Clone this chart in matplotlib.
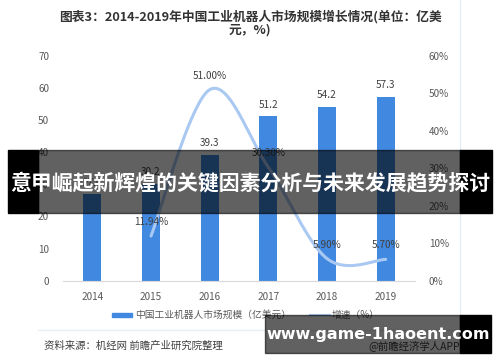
import numpy as np
import matplotlib
matplotlib.use("Agg")
import matplotlib.pyplot as plt
from matplotlib.patches import Rectangle
from matplotlib.lines import Line2D

plt.rcParams['font.family'] = ['Noto Sans CJK SC', 'DejaVu Sans']

years = ['2014', '2015', '2016', '2017', '2018', '2019']
market = [27.0, 30.2, 39.3, 51.2, 54.2, 57.3]          # 亿美元
growth = [None, 11.94, 51.00, 30.30, 5.90, 5.70]        # %
growth_labels = ['', '11.94%', '51.00%', '30.30%', '5.90%', '5.70%']
left_ticks = [0, 10, 20, 30, 40, 50, 60, 70]
right_ticks = [0, 10, 20, 30, 40, 50, 60]

title = '图表3：2014-2019年中国工业机器人市场规模增长情况(单位：亿美\n元，%)'
banner = '意甲崛起新辉煌的关键因素分析与未来发展趋势探讨'
site = 'www.game-1haoent.com'
source = '资料来源：机经网 前瞻产业研究院整理'
app = '@前瞻经济学人APP'

W, H = 500, 362
fig = plt.figure(figsize=(W / 100, H / 100), dpi=100)
fig.patch.set_facecolor('white')

def fx(px):
    return px / W

def fy(py):
    return 1 - py / H

# plot area
ax = fig.add_axes([fx(63), fy(280.7), fx(415 - 63), (280.7 - 56) / H])
x = np.arange(len(years))
bars = ax.bar(x, market, width=0.31, color='#4189e0', zorder=2)
ax.set_xlim(-0.5, len(years) - 0.5)
ax.set_ylim(0, 70)
ax.set_yticks(left_ticks)
ax.set_xticks(x)
ax.set_xticklabels(years)
for s in ['top', 'left', 'right']:
    ax.spines[s].set_visible(False)
ax.spines['bottom'].set_color('#d9d9d9')
ax.tick_params(axis='both', length=0, labelsize=7.2, labelcolor='#595959')
ax.tick_params(axis='y', pad=10)
ax.tick_params(axis='x', pad=8)
for xi, v in zip(x, market):
    ax.text(xi, v + 2.0, f'{v:.1f}', ha='center', va='bottom', fontsize=7.2, color='#404040')

# growth line (smoothed, Catmull-Rom like Excel)
ax2 = ax.twinx()
ax2.set_ylim(0, 60)
ax2.set_yticks(right_ticks)
ax2.set_yticklabels([f'{t}%' for t in right_ticks])
for s in ['top', 'left', 'right', 'bottom']:
    ax2.spines[s].set_visible(False)
ax2.tick_params(axis='y', length=0, labelsize=7.2, labelcolor='#595959', pad=10)

px = np.array([xi for xi, g in zip(x, growth) if g is not None], dtype=float)
py = np.array([g for g in growth if g is not None], dtype=float)
P = np.vstack([px, py]).T
P = np.vstack([P[0], P, P[-1]])
sx, sy = [], []
for i in range(1, len(P) - 2):
    p0, p1, p2, p3 = P[i - 1], P[i], P[i + 1], P[i + 2]
    t = np.linspace(0, 1, 40)[:, None]
    seg = 0.5 * ((2 * p1) + (-p0 + p2) * t + (2 * p0 - 5 * p1 + 4 * p2 - p3) * t ** 2
                 + (-p0 + 3 * p1 - 3 * p2 + p3) * t ** 3)
    sx.extend(seg[:, 0]); sy.extend(seg[:, 1])
ax2.plot(sx, sy, color='#a9c9f2', lw=2.2, zorder=3, solid_capstyle='round')
for xi, g, lab in zip(x, growth, growth_labels):
    if g is None:
        continue
    ax2.text(xi, g + 2.4, lab, ha='center', va='bottom', fontsize=7.2, color='#404040')

# title
fig.text(0.5, fy(23), title, ha='center', va='center', fontsize=9.2, fontweight='bold',
         color='#333333', linespacing=0.95)

# legend
fig.patches.append(Rectangle((fx(112), fy(317)), fx(20), 4 / H, transform=fig.transFigure,
                             color='#4189e0'))
fig.text(fx(135), fy(314.5), '中国工业机器人市场规模（亿美元）', ha='left', va='center',
         fontsize=7, color='#595959')
fig.lines.append(Line2D([fx(310), fx(330)], [fy(314.5), fy(314.5)], transform=fig.transFigure,
                        color='#a9c9f2', lw=1.5))
fig.text(fx(332), fy(314.5), '增速（%）', ha='left', va='center', fontsize=7, color='#595959')

# frame lines
fig.lines.append(Line2D([fx(38), fx(460)], [fy(330), fy(330)], transform=fig.transFigure,
                        color='#e8eef7', lw=1))
fig.lines.append(Line2D([fx(460), fx(460)], [fy(0), fy(330)], transform=fig.transFigure,
                        color='#e8eef7', lw=1))

# source
fig.text(fx(44), fy(346), source, ha='left', va='center', fontsize=7.5, color='#404040')
fig.text(fx(460), fy(346), app, ha='right', va='center', fontsize=7.5, color='#404040')

# banner overlay
fig.patches.append(Rectangle((fx(38), fy(213)), fx(460 - 38), 63 / H, transform=fig.transFigure,
                             color='black', alpha=0.62, zorder=10))
fig.patches.append(Rectangle((fx(8), fy(213)), fx(30), 63 / H, transform=fig.transFigure,
                             color='black', zorder=10))
fig.patches.append(Rectangle((fx(460), fy(213)), fx(32), 63 / H, transform=fig.transFigure,
                             color='black', zorder=10))
fig.text(0.5, fy(183), banner, ha='center', va='center', fontsize=15.0, fontweight='bold',
         color='white', zorder=11)

# site box
fig.patches.append(Rectangle((fx(265), fy(353)), fx(460 - 265), 38 / H, transform=fig.transFigure,
                             color='black', alpha=0.62, zorder=10))
fig.patches.append(Rectangle((fx(460), fy(353)), fx(31), 38 / H, transform=fig.transFigure,
                             color='black', zorder=10))
fig.text(fx(378), fy(335), site, ha='center', va='center', fontsize=11.5, fontweight='bold',
         color='white', zorder=11, family=['DejaVu Sans'])

fig.savefig('out.png', dpi=100)
